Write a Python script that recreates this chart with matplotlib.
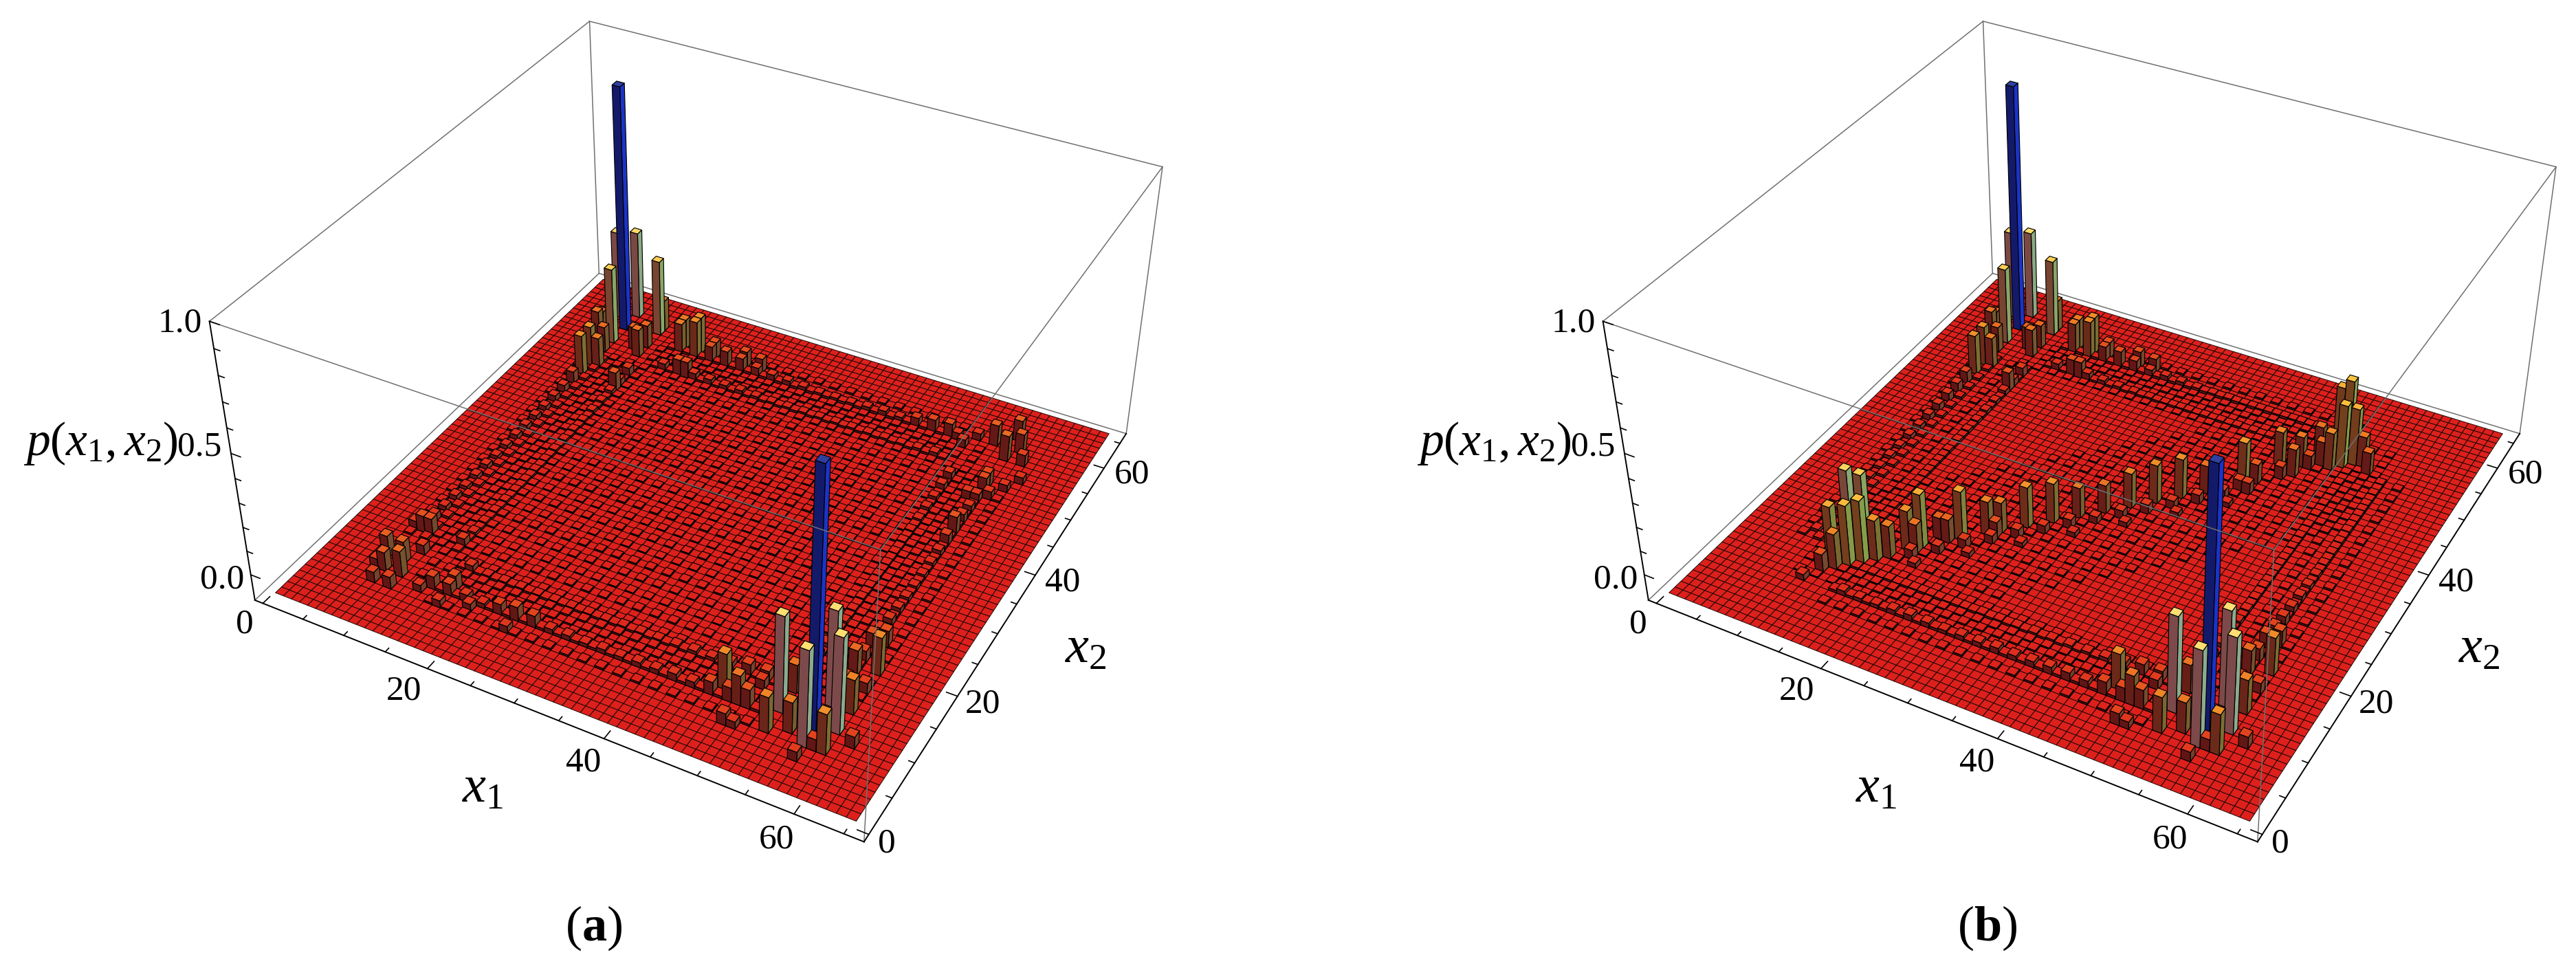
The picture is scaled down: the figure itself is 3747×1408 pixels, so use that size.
import numpy as np
import matplotlib
matplotlib.use('Agg')
import matplotlib.pyplot as plt
from matplotlib.axes import Axes
from matplotlib.colors import LinearSegmentedColormap
from mpl_toolkits.mplot3d.art3d import Poly3DCollection

plt.rcParams['font.family'] = ['Liberation Serif', 'DejaVu Serif']
plt.rcParams['mathtext.fontset'] = 'custom'
plt.rcParams['mathtext.rm'] = 'Liberation Serif'
plt.rcParams['mathtext.it'] = 'Liberation Serif:italic'
plt.rcParams['mathtext.bf'] = 'Liberation Serif:bold'

# two blue peaks with their neighbours, the same in both panels
corner_x1 = [57, 57, 59, 53, 57, 59, 53, 47, 49, 53, 55, 59, 59, 57, 46, 48, 50, 49, 50, 50, 57, 58, 61, 59, 58,
             8, 8, 12, 6, 8, 12, 18, 16, 12, 6, 8, 9, 13, 19, 24, 26, 20, 8, 11, 12, 6]
corner_x2 = [9, 7, 10, 10, 13, 7, 7, 10, 9, 13, 8, 13, 19, 18, 9, 13, 12, 6, 6, 9, 5, 7, 9, 16, 23,
             58, 55, 59, 60, 61, 60, 58, 58, 54, 55, 48, 50, 47, 53, 58, 58, 58, 53, 55, 56, 56]
corner_h = [1.05, 0.40, 0.40, 0.40, 0.40, 0.17, 0.15, 0.16, 0.125, 0.12, 0.13, 0.145, 0.16, 0.105, 0.055, 0.05, 0.04, 0.05, 0.03, 0.06, 0.04, 0.05, 0.05, 0.05, 0.07,
            1.05, 0.33, 0.33, 0.38, 0.38, 0.135, 0.16, 0.13, 0.12, 0.12, 0.17, 0.13, 0.08, 0.07, 0.07, 0.06, 0.07, 0.11, 0.10, 0.10, 0.10]

# panel (a): small clusters on the main diagonal corners
clusterA_x1 = [8, 10, 7, 9, 10, 8, 7, 9, 16, 14, 10, 7, 13, 13, 16, 16, 22, 24, 26, 24, 19,
               57, 58, 55, 57, 59, 57, 57, 57, 58, 56, 59, 60, 48, 51, 53, 52]
clusterA_x2 = [9, 9, 11, 11, 7, 7, 9, 16, 10, 9, 13, 16, 8, 16, 13, 7, 9, 9, 9, 7, 8,
               56, 58, 58, 60, 56, 51, 42, 40, 49, 48, 51, 53, 57, 57, 58, 56]
clusterA_h = [0.08, 0.11, 0.09, 0.09, 0.05, 0.045, 0.04, 0.07, 0.06, 0.055, 0.04, 0.035, 0.03, 0.035, 0.03, 0.03, 0.045, 0.06, 0.05, 0.03, 0.03,
              0.11, 0.085, 0.09, 0.09, 0.05, 0.06, 0.075, 0.045, 0.035, 0.035, 0.03, 0.03, 0.055, 0.03, 0.03, 0.035]

# panel (b): big clusters joined by a line of bars along x1 = x2
clusterB_x1 = [15, 14, 13, 12, 16, 13, 14, 12, 17, 11, 19, 18, 19, 22, 21, 20, 24, 25, 25, 27, 29, 31, 33, 35, 37, 39, 41, 44, 46, 48, 48, 45, 47,
               51, 50, 54, 53, 52, 51, 50, 55, 49, 44, 49]
clusterB_x2 = [14, 13, 12, 11, 15, 15, 16, 13, 16, 9, 19, 18, 18, 22, 21, 21, 24, 25, 24, 27, 29, 31, 33, 35, 37, 39, 41, 44, 49, 48, 50, 45, 47,
               51, 51, 53, 53, 52, 56, 56, 52, 50, 43, 53]
clusterB_h = [0.27, 0.26, 0.15, 0.075, 0.175, 0.35, 0.32, 0.23, 0.14, 0.025, 0.23, 0.17, 0.125, 0.21, 0.10, 0.095, 0.145, 0.13, 0.07, 0.175, 0.17, 0.13, 0.12, 0.15, 0.165, 0.17, 0.12, 0.19, 0.15, 0.12, 0.13, 0.085, 0.055,
              0.16, 0.11, 0.135, 0.245, 0.27, 0.28, 0.24, 0.10, 0.06, 0.05, 0.12]
lineB_x1 = [19, 21, 23, 25, 27, 29, 31, 33, 35, 37, 39, 41, 43, 45, 20, 24, 28, 32, 36, 40, 44]
lineB_x2 = [17, 19, 21, 23, 25, 27, 29, 31, 33, 35, 37, 39, 41, 43, 16, 20, 24, 28, 32, 36, 40]
lineB_h = [0.04, 0.035, 0.04, 0.035, 0.04, 0.035, 0.04, 0.03, 0.035, 0.04, 0.035, 0.04, 0.04, 0.05, 0.02, 0.02, 0.02, 0.02, 0.02, 0.02, 0.02]

# bands of the ring, heights along each side
ring_steps = [16, 18, 20, 22, 24, 26, 28, 30, 32, 34, 36, 38, 40, 42, 44, 46, 48, 50]
ringA_front_outer = [0.05, 0.03, 0.02, 0.03, 0.05, 0.04, 0.02, 0.02, 0.015, 0.018, 0.015, 0.02, 0.02, 0.03, 0.025, 0.05, 0.06, 0.08]
ringA_front_inner = [0.03, 0.012, 0.012, 0.012, 0.01, 0.01, 0.01, 0.01, 0.01, 0.012, 0.012, 0.012, 0.015, 0.02, 0.02, 0.03, 0.04, 0.05]
ringA_back_outer = [0.13, 0.16, 0.07, 0.07, 0.06, 0.04, 0.03, 0.025, 0.02, 0.015, 0.015, 0.015, 0.02, 0.025, 0.02, 0.04, 0.05, 0.06]
ringA_back_inner = [0.03, 0.07, 0.03, 0.025, 0.02, 0.02, 0.015, 0.012, 0.012, 0.012, 0.012, 0.012, 0.012, 0.012, 0.012, 0.012, 0.015, 0.02]
ringA_left_outer = [0.07, 0.03, 0.02, 0.02, 0.015, 0.018, 0.02, 0.015, 0.018, 0.02, 0.02, 0.02, 0.02, 0.025, 0.03, 0.05, 0.13, 0.17]
ringA_left_inner = [0.035, 0.015, 0.012, 0.012, 0.012, 0.01, 0.01, 0.01, 0.01, 0.012, 0.012, 0.012, 0.012, 0.015, 0.015, 0.02, 0.03, 0.04]
ringA_right_outer = [0.05, 0.105, 0.05, 0.07, 0.04, 0.03, 0.025, 0.02, 0.018, 0.018, 0.02, 0.025, 0.045, 0.075, 0.04, 0.03, 0.035, 0.06]
ringA_right_inner = [0.04, 0.03, 0.025, 0.02, 0.015, 0.012, 0.012, 0.01, 0.01, 0.01, 0.01, 0.012, 0.012, 0.015, 0.02, 0.02, 0.03, 0.035]
ringB_front_outer = [0.02, 0.015, 0.015, 0.02, 0.025, 0.02, 0.015, 0.02, 0.02, 0.025, 0.02, 0.025, 0.03, 0.035, 0.03, 0.05, 0.06, 0.08]
ringB_front_inner = [0.006, 0.006, 0.006, 0.008, 0.008, 0.008, 0.008, 0.01, 0.01, 0.01, 0.012, 0.012, 0.015, 0.015, 0.02, 0.03, 0.04, 0.05]
ringB_back_outer = [0.13, 0.16, 0.07, 0.07, 0.05, 0.03, 0.025, 0.02, 0.015, 0.012, 0.012, 0.01, 0.01, 0.01, 0.01, 0.008, 0.008, 0.008]
ringB_back_inner = [0.03, 0.07, 0.03, 0.02, 0.015, 0.012, 0.01, 0.008, 0.008, 0.006, 0.006, 0.006, 0.005, 0.005, 0.005, 0.005, 0.005, 0.005]
ringB_left_outer = [0.012, 0.012, 0.012, 0.01, 0.01, 0.012, 0.012, 0.015, 0.015, 0.02, 0.02, 0.025, 0.03, 0.035, 0.04, 0.05, 0.13, 0.17]
ringB_left_inner = [0.005, 0.005, 0.005, 0.005, 0.006, 0.006, 0.006, 0.008, 0.008, 0.01, 0.01, 0.012, 0.012, 0.015, 0.015, 0.02, 0.03, 0.04]
ringB_right_outer = [0.05, 0.105, 0.06, 0.07, 0.05, 0.04, 0.03, 0.025, 0.02, 0.015, 0.012, 0.012, 0.012, 0.012, 0.01, 0.01, 0.008, 0.008]
ringB_right_inner = [0.04, 0.03, 0.025, 0.02, 0.015, 0.012, 0.01, 0.01, 0.008, 0.008, 0.006, 0.006, 0.006, 0.005, 0.005, 0.005, 0.005, 0.005]

# faint cells between the ring bars
band_steps = [15, 17, 19, 21, 23, 25, 27, 29, 31, 33, 35, 37, 39, 41, 43, 45, 47, 49, 51]
band_levels = [7, 9, 11, 13, 53, 55, 57, 59]
band_h = [0.007, 0.010, 0.006, 0.008, 0.008, 0.006, 0.010, 0.007]

# low raised cells that make the dark texture inside the ring
mesh_rows = [10, 12, 14, 16, 18, 20, 22, 24, 26, 28, 30, 32, 34, 36, 38, 40, 42, 44, 46, 48, 50, 52, 54, 56]
meshA_from = [12, 12, 10, 10, 10, 10, 10, 10, 10, 10, 10, 10, 10, 10, 10, 10, 10, 10, 10, 10, 10, 10, 12, 12]
meshA_to = [54, 54, 56, 56, 56, 56, 56, 56, 56, 56, 56, 56, 56, 56, 56, 56, 56, 56, 56, 56, 56, 56, 54, 54]
meshA_h = [0.006, 0.007, 0.005, 0.006, 0.004, 0.005, 0.006, 0.004, 0.005, 0.004, 0.006, 0.004, 0.005, 0.004, 0.006, 0.005, 0.004, 0.006, 0.005, 0.004, 0.006, 0.005, 0.007, 0.006]
meshB_from = [10, 10, 10, 8, 8, 8, 8, 10, 12, 14, 16, 18, 20, 22, 24, 26, 28, 30, 32, 34, 36, 12, 12, 12]
meshB_to = [54, 54, 54, 30, 32, 34, 36, 38, 40, 42, 44, 46, 48, 50, 52, 54, 56, 56, 56, 56, 56, 56, 56, 56]
meshB_h = [0.004, 0.005, 0.004, 0.006, 0.005, 0.005, 0.006, 0.005, 0.006, 0.005, 0.006, 0.005, 0.006, 0.005, 0.006, 0.005, 0.006, 0.005, 0.006, 0.005, 0.006, 0.004, 0.004, 0.005]

x1_ticks = [0, 20, 40, 60]
x2_ticks = [0, 20, 40, 60]
z_ticks = [0.0, 0.5, 1.0]
minor_ticks = [0, 5, 10, 15, 20, 25, 30, 35, 40, 45, 50, 55, 60, 65]
z_minor = [0.0, 0.1, 0.2, 0.3, 0.4, 0.5, 0.6, 0.7, 0.8, 0.9, 1.0]

W, H = 3748, 1408
FLOOR = -0.095
ZMIN = -0.11

top_cmap = LinearSegmentedColormap.from_list('top', [(0, '#dd201c'), (0.04, '#e03c1e'), (0.11, '#ea6a22'), (0.18, '#f0922a'), (0.29, '#fdc23e'), (0.42, '#ffdf72'), (0.6, '#ffdf72'), (0.9, '#2f40a0'), (1, '#2f40a0')])
left_cmap = LinearSegmentedColormap.from_list('left', [(0, '#5e1414'), (0.11, '#641a16'), (0.18, '#6c2c1a'), (0.29, '#74421e'), (0.42, '#7c4a4a'), (0.6, '#7c4a4a'), (0.9, '#141a6a'), (1, '#141a6a')])
right_cmap = LinearSegmentedColormap.from_list('right', [(0, '#78352c'), (0.11, '#74512e'), (0.18, '#7c7034'), (0.29, '#86a04c'), (0.42, '#8cab8e'), (0.6, '#8cab8e'), (0.9, '#1a34c8'), (1, '#1a34c8')])


def collect(cells, xs, ys, hs):
    for x, y, h in zip(xs, ys, hs):
        cells[(x, y)] = max(cells.get((x, y), 0), h)


def ring_cells(cells, sides):
    front_o, front_i, back_o, back_i, left_o, left_i, right_o, right_i = sides
    n = len(ring_steps)
    collect(cells, ring_steps, [9] * n, front_o)
    collect(cells, ring_steps, [13] * n, front_i)
    collect(cells, ring_steps, [57] * n, back_o)
    collect(cells, ring_steps, [53] * n, back_i)
    collect(cells, [8] * n, ring_steps, left_o)
    collect(cells, [13] * n, ring_steps, left_i)
    collect(cells, [57] * n, ring_steps, right_o)
    collect(cells, [53] * n, ring_steps, right_i)


def band_cells(cells):
    n = len(band_steps)
    for level, h in zip(band_levels, band_h):
        collect(cells, band_steps, [level] * n, [h] * n)
        collect(cells, [level] * n, band_steps, [h] * n)


def mesh_cells(cells, m_from, m_to, m_h):
    for row, a, b, h in zip(mesh_rows, m_from, m_to, m_h):
        xs = list(range(a, b + 1, 2))
        collect(cells, xs, [row] * len(xs), [h] * len(xs))


def add_bar(ax, x, y, h, z):
    x0, x1, y0, y1 = x - 0.49, x + 0.49, y - 0.49, y + 0.49
    lo, hi = FLOOR, FLOOR + h
    faces = [[(x0, y0, lo), (x1, y0, lo), (x1, y0, hi), (x0, y0, hi)],
             [(x1, y0, lo), (x1, y1, lo), (x1, y1, hi), (x1, y0, hi)],
             [(x0, y0, hi), (x1, y0, hi), (x1, y1, hi), (x0, y1, hi)]]
    t = min(h / 0.95, 1.0)
    col = Poly3DCollection(faces, facecolors=[left_cmap(t), right_cmap(t), top_cmap(t)],
                           edgecolors='black', linewidths=0.85, zorder=z, clip_on=False)
    ax.add_collection3d(col, autolim=False)


def fit_axes(ax):
    # reference positions of the box corners give scale and offset of the projection
    pts3 = np.array([[-1, -1, ZMIN], [67, -1, ZMIN], [67, 67, ZMIN], [-1, 67, ZMIN],
                     [-1, -1, 1], [67, -1, 1], [67, 67, 1], [-1, 67, 1]], float)
    pts2 = np.array([[370, 873], [1257, 1223], [1638, 632], [870, 398],
                     [306, 466], [1280, 802], [1692, 239], [858, 33]], float)
    o = ax.get_proj() @ np.c_[pts3, np.ones(8)].T
    xy = (o[:2] / o[3]).T
    A = np.zeros((16, 3))
    b = np.r_[pts2[:, 0], pts2[:, 1]]
    A[:8, 0] = xy[:, 0]
    A[:8, 1] = 1
    A[8:, 0] = -xy[:, 1]
    A[8:, 2] = 1
    return np.linalg.lstsq(A, b, rcond=None)[0]


def draw_panel(fig, shift, cells):
    ax = fig.add_axes([0, 0, 0.3, 0.3 * W / H], projection='3d', computed_zorder=False)
    ax.set_axis_off()
    ax.set_xlim(-1, 67, view_margin=0)
    ax.set_ylim(-1, 67, view_margin=0)
    ax.set_zlim(ZMIN, 1, view_margin=0)
    ax.view_init(elev=36.244, azim=-61.474, roll=0.134)
    ax.set_proj_type('persp', focal_length=0.4241)
    ax.set_box_aspect((1, 1, 0.504))
    ax.set_autoscale_on(False)
    s, cx, cy = fit_axes(ax)
    x0, x1 = Axes.get_xlim(ax)
    y0, y1 = Axes.get_ylim(ax)
    ax.set_position([(cx + s * x0 + shift) / W, (H - cy + s * y0) / H, s * (x1 - x0) / W, s * (y1 - y0) / H])

    gray = '#707070'
    lo, hi, zlo = -1, 67, ZMIN

    def edge(xs, ys, zs, color, z, lw=1.1):
        ax.plot(xs, ys, zs, color=color, lw=lw, zorder=z, clip_on=False)

    # back edges sit behind the floor
    edge([lo, lo], [lo, hi], [zlo, zlo], gray, 1)
    edge([lo, hi], [hi, hi], [zlo, zlo], gray, 1)
    edge([lo, lo], [hi, hi], [zlo, 1], gray, 1)
    edge([lo, lo], [lo, hi], [1, 1], gray, 1)
    edge([lo, hi], [hi, hi], [1, 1], gray, 1)
    edge([hi, hi], [hi, hi], [zlo, 1], gray, 1)

    floor = []
    for i in range(1, 66):
        for j in range(1, 66):
            floor.append([(i - 0.5, j - 0.5, FLOOR), (i + 0.5, j - 0.5, FLOOR), (i + 0.5, j + 0.5, FLOOR), (i - 0.5, j + 0.5, FLOOR)])
    ax.add_collection3d(Poly3DCollection(floor, facecolors='#dd201c', edgecolors='#1c0806', linewidths=0.7,
                                         zorder=2, clip_on=False), autolim=False)

    # painter's order: far cells first
    order = sorted(cells, key=lambda c: (c[0], -c[1]))
    for n, (x, y) in enumerate(order):
        add_bar(ax, x, y, cells[(x, y)], 3 + n)

    top = 3 + len(order)
    edge([lo, hi], [lo, lo], [1, 1], gray, top)
    edge([hi, hi], [lo, hi], [1, 1], gray, top)
    edge([hi, hi], [lo, lo], [zlo, 1], gray, top)
    edge([lo, lo], [lo, lo], [zlo, 1], 'black', top, 1.4)
    edge([lo, hi], [lo, lo], [zlo, zlo], 'black', top, 1.4)
    edge([hi, hi], [lo, hi], [zlo, zlo], 'black', top, 1.4)

    for t in minor_ticks:
        n = 1.15 if t in x1_ticks else 0.6
        edge([t, t], [lo, lo + n], [zlo, zlo], 'black', top, 1.2)
        edge([hi, hi - n], [t, t], [zlo, zlo], 'black', top, 1.2)
    for t in z_minor:
        n = 1.15 if t in z_ticks else 0.7
        edge([lo, lo + n], [lo, lo], [t, t], 'black', top, 1.2)
    return ax


fig = plt.figure(figsize=(W / 100, H / 100), dpi=100)

cells_a = {}
mesh_cells(cells_a, meshA_from, meshA_to, meshA_h)
band_cells(cells_a)
ring_cells(cells_a, (ringA_front_outer, ringA_front_inner, ringA_back_outer, ringA_back_inner,
                     ringA_left_outer, ringA_left_inner, ringA_right_outer, ringA_right_inner))
collect(cells_a, clusterA_x1, clusterA_x2, clusterA_h)
collect(cells_a, corner_x1, corner_x2, corner_h)

cells_b = {}
mesh_cells(cells_b, meshB_from, meshB_to, meshB_h)
band_cells(cells_b)
ring_cells(cells_b, (ringB_front_outer, ringB_front_inner, ringB_back_outer, ringB_back_inner,
                     ringB_left_outer, ringB_left_inner, ringB_right_outer, ringB_right_inner))
collect(cells_b, lineB_x1, lineB_x2, lineB_h)
collect(cells_b, clusterB_x1, clusterB_x2, clusterB_h)
collect(cells_b, corner_x1, corner_x2, corner_h)

SHIFT = 2027
draw_panel(fig, 0, cells_a)
draw_panel(fig, SHIFT, cells_b)


def put(x, y, s, size=37):
    fig.text(x / W, 1 - y / H, s, fontsize=size, ha='center', va='center', color='black')


for dx, name in ((0, '(a)'), (SHIFT, '(b)')):
    put(262 + dx, 470, '%.1f' % z_ticks[2])
    put(290 + dx, 650, '%.1f' % z_ticks[1])
    put(323 + dx, 843, '%.1f' % z_ticks[0])
    put(356 + dx, 908, str(x1_ticks[0]))
    put(587 + dx, 1005, str(x1_ticks[1]))
    put(849 + dx, 1109, str(x1_ticks[2]))
    put(1130 + dx, 1221, str(x1_ticks[3]))
    put(1290 + dx, 1227, str(x2_ticks[0]))
    put(1430 + dx, 1024, str(x2_ticks[1]))
    put(1546 + dx, 847, str(x2_ticks[2]))
    put(1647 + dx, 690, str(x2_ticks[3]))
    put(146 + dx, 645, r'$p(x_1,x_2)$', 50)
    put(702 + dx, 1148, r'$x_1$', 55)
    put(1579 + dx, 945, r'$x_2$', 55)
    put(864 + dx, 1350, '(' + r'$\mathbf{' + name[1] + '}$' + ')', 52)

fig.savefig('out.png', dpi=100)
